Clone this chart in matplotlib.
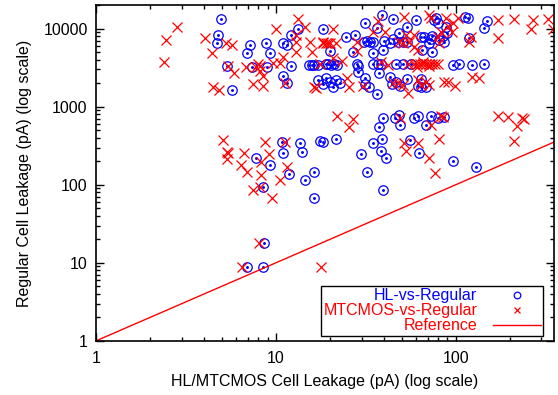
import numpy as np
import matplotlib
matplotlib.use("Agg")
import matplotlib.pyplot as plt
from matplotlib import ticker

plt.rcParams["font.family"] = ["Liberation Sans", "DejaVu Sans"]

# HL-vs-Regular points (x: HL cell leakage, y: regular cell leakage), pA
hl_x = [4.98, 4.80, 4.73, 5.38, 5.74, 7.22, 6.95, 7.41, 8.87, 9.33, 8.98,
        11.0, 11.6, 12.2, 13.2, 12.1, 10.9, 11.5, 15.2, 15.8, 16.4, 17.1,
        17.1, 18.2, 18.9, 18.4, 19.9, 19.1, 19.4, 20.2, 21.0, 22.0,
        20.1, 20.7, 21.5, 22.6, 24.7, 27.7, 26.7, 31.5, 38.7, 36.3, 45.1, 53.3, 59.8, 48.7,
        31.0, 32.3, 33.6, 34.9, 39.7, 43.4, 45.1, 47.5, 50.7, 53.3, 34.9, 39.2,
        28.1, 28.8, 34.9, 36.8, 38.2, 46.3, 50.7, 56.1, 96.1, 103.8, 122.5, 143,
        28.8, 37.7, 31.5, 31.5, 32.8, 36.3, 43.4, 44.4, 46.3, 49.3, 53.3,
        61.4, 63.8, 68.0, 63.8, 63.8, 66.3, 73.4, 72.5,
        64.6, 74.3, 70.7, 80.3, 85.6, 84.5, 89.0, 87.8, 77.3, 79.3, 75.3,
        112, 116.5, 118, 143, 149,
        39.2, 37.7, 45.7, 48.7, 49.3, 58.3, 61.4, 72.5, 68.0, 79.3, 85.6,
        18.2, 21.5, 34.9, 38.7, 38.2, 41.2, 29.9, 32.3, 39.2, 55.4, 62.2, 96.1, 129,
        7.80, 9.33, 8.53, 10.8, 11.0, 13.7, 13.9, 17.7, 11.9, 14.6, 16.4, 16.2,
        8.64, 6.95, 8.53]
hl_y = [13400, 8370, 6620, 3360, 1650, 6240, 4920, 3260, 6620, 4920, 3260,
        6620, 6240, 8370, 10000, 3360, 2500, 2030, 3450, 3450, 3450, 3450,
        2220, 1970, 2350, 10000, 5220, 3560, 3500, 3450, 3500, 3450,
        2090, 1800, 2220, 2030, 7890, 8370, 5070, 11930, 15100, 10300, 13400, 10610, 13000, 8890,
        6810, 7020, 6810, 6810, 7020, 6620, 7450, 6810, 6810, 6810, 4920, 5380,
        3560, 3360, 3560, 3560, 3560, 3560, 3560, 3560, 3450, 3560, 3450, 3560,
        2810, 2730, 2350, 1970, 1800, 1470, 2420, 1970, 2090, 1860, 2290,
        1860, 1800, 1800, 2290, 7890, 7890, 8100, 7450,
        5380, 5070, 6620, 7230, 6810, 8100, 8890, 10610, 13800, 11930, 13000,
        14250, 13800, 7670, 10300, 12660,
        723, 555, 723, 790, 588, 723, 767, 767, 588, 723, 745,
        356, 389, 345, 389, 273, 222, 250, 147, 86, 378, 257, 203, 170,
        222, 180, 94, 356, 257, 345, 265, 367, 138, 116, 147, 68,
        18.0, 8.9, 8.9]

# MTCMOS-vs-Regular points, pA
mt_x = [2.83, 2.46, 2.40, 4.06, 4.44, 4.50, 4.85, 5.31, 5.74, 5.45, 5.88, 6.86, 7.50, 8.53,
        8.0, 8.21, 7.8, 8.21, 8.53, 9.70, 10.6, 11.0, 10.07, 11.2,
        13.2, 14.6, 13.0, 12.9, 15.4, 15.8, 16.4, 18.4, 19.1, 17.7, 12.9,
        20.9, 18.2, 19.4, 20.1, 21.5, 20.9, 23.2, 25.0, 25.4, 28.1, 28.4,
        34.5, 36.8, 30.7, 40.2, 38.2, 42.3, 51.3, 52.6, 48.1, 50.7, 54.7,
        58.3, 59.0, 61.4, 54.0, 50.7,
        54.0, 58.3, 60.6, 63.0, 65.5, 68.0, 70.7, 73.4, 76.3, 79.3, 60.6, 65.5, 70.7,
        70.7, 72.5, 82.4, 79.3, 80.3, 87.8, 90.1, 97.0, 96.0, 102.5,
        90.1, 85.6, 98.6, 124, 134, 121, 118,
        171, 173, 210, 268, 261, 325, 346,
        45.1, 47.5, 61.4, 63.8, 68.0, 70.7, 16.8,
        22.0, 27.0, 25.4, 49.3, 72.5, 82.4, 84.5,
        51.3, 52.6, 61.4, 80.3, 70.7, 76.3,
        171, 195, 235, 240, 218, 210,
        5.11, 5.38, 5.45, 5.38, 6.69, 6.44, 6.95, 8.76, 9.2, 8.32, 8.32, 7.50, 8.21, 9.58, 10.5, 11.6, 11.2,
        8.11, 6.52, 17.9]
mt_y = [10610, 7230, 3780, 7670, 4920, 1800, 1650, 6620, 6240, 3360, 2730, 3260, 1970, 1860,
        3560, 3360, 3260, 2900, 2500, 3670, 3670, 4380, 10000, 2030,
        13400, 10610, 6810, 5070, 6810, 5070, 1800, 6810, 6620, 3560, 8370,
        10000, 6620, 6620, 6620, 6620, 4250, 3890, 2350, 1800, 6810, 5220,
        9160, 12660, 1860, 9160, 3780, 3450, 14250, 8370, 6810, 6620, 6810,
        8370, 5880, 5380, 1510, 1910,
        3560, 3560, 3560, 3560, 3560, 3560, 3560, 3560, 3560, 3560, 3260, 3780, 3360,
        15100, 13800, 9160, 7890, 6620, 13800, 10900, 11900, 9160, 13800,
        2090, 2090, 1860, 2420, 2350, 7890, 6810,
        13000, 7670, 13400, 13000, 10000, 13400, 10000,
        2030, 2030, 2220, 1910, 2090, 1910, 1750,
        767, 702, 555, 723, 588, 767, 745,
        345, 273, 345, 389, 222, 143,
        767, 745, 723, 700, 571, 367,
        378, 265, 257, 215, 257, 180, 147, 356, 250, 197, 134, 86, 94, 68, 116, 170, 356,
        18.0, 8.9, 8.9]

x_range = [1, 350]
y_range = [1, 20000]

fs = 11.5

fig = plt.figure(figsize=(5.58, 3.95), dpi=100)
ax = fig.add_axes([0.172, 0.137, 0.820, 0.850])

ax.plot(hl_x, hl_y, linestyle="none", marker="o", markersize=6.8, markerfacecolor="none",
        markeredgecolor="#0000ff", markeredgewidth=0.9, label="HL-vs-Regular")
ax.plot(hl_x, hl_y, linestyle="none", marker="o", markersize=1.1, color="#0000ff")
ax.plot(mt_x, mt_y, linestyle="none", marker="x", markersize=6.8, markeredgecolor="#ff0000",
        markeredgewidth=0.9, label="MTCMOS-vs-Regular")

# reference y = x
ref = np.array(x_range, dtype=float)
ax.plot(ref, ref, color="#ff0000", linewidth=1.0, label="Reference")

ax.set_xscale("log")
ax.set_yscale("log")
ax.set_xlim(x_range)
ax.set_ylim(y_range)

fmt = ticker.FuncFormatter(lambda v, p: f"{v:g}")
ax.xaxis.set_major_formatter(fmt)
ax.yaxis.set_major_formatter(fmt)
ax.xaxis.set_minor_formatter(ticker.NullFormatter())
ax.yaxis.set_minor_formatter(ticker.NullFormatter())
ax.tick_params(which="both", direction="in", top=True, right=True, labelsize=fs, colors="black")
ax.tick_params(which="major", length=6, width=1)
ax.tick_params(which="minor", length=3, width=1)
ax.tick_params(axis="x", pad=7)
ax.tick_params(axis="y", pad=6)
for s in ax.spines.values():
    s.set_linewidth(1.2)

ax.set_xlabel("HL/MTCMOS Cell Leakage (pA) (log scale)", fontsize=fs, labelpad=6)
ax.set_ylabel("Regular Cell Leakage (pA) (log scale)", fontsize=fs, labelpad=8)

leg = ax.legend(loc="lower right", bbox_to_anchor=(0.978, 0.015), markerfirst=False,
                fancybox=False, edgecolor="black", framealpha=1, fontsize=fs,
                labelspacing=0.0, borderpad=0.15, handlelength=3.0, handletextpad=1.0,
                borderaxespad=0, markerscale=0.7)
leg.get_frame().set_linewidth(1.0)
for t, c in zip(leg.get_texts(), ["#0000ff", "#ff0000", "#ff0000"]):
    t.set_color(c)

fig.savefig("out.png", dpi=100)
